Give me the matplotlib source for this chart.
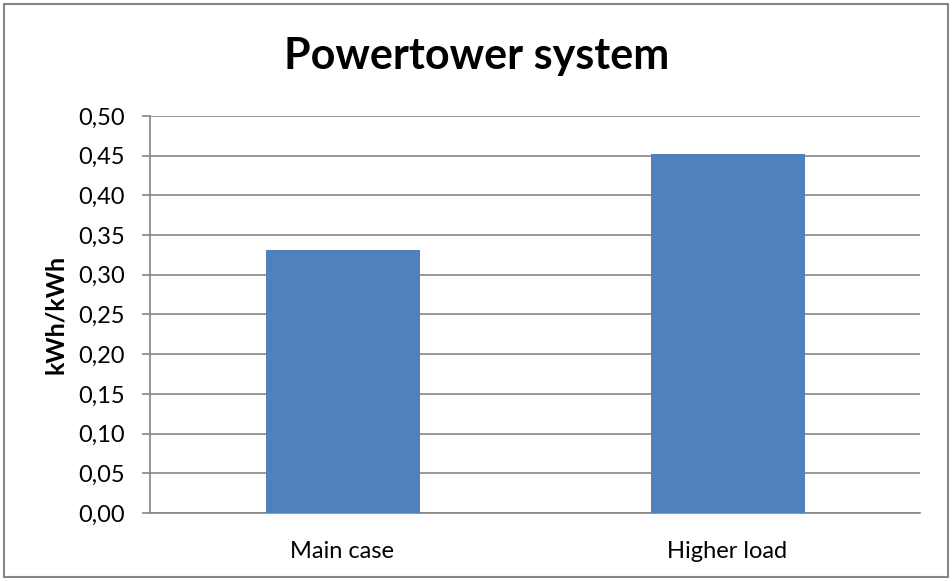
import matplotlib.pyplot as plt
from matplotlib.patches import Rectangle
from matplotlib.ticker import MultipleLocator, FuncFormatter

# energy ratio per case
cases = ["Main case", "Higher load"]
ratios = [0.331, 0.452]

plt.rcParams['font.family'] = ['Lato', 'DejaVu Sans']

fig = plt.figure(figsize=(9.52, 5.81), dpi=100)
ax = fig.add_axes([150 / 952, 68 / 581, 770 / 952, 397 / 581])

x = range(len(cases))
ax.bar(x, ratios, width=0.4, color="#4F81BD", zorder=3)

ax.set_xlim(-0.5, len(cases) - 0.5)
ax.set_ylim(0, 0.5)
ax.yaxis.set_major_locator(MultipleLocator(0.05))
ax.yaxis.set_major_formatter(FuncFormatter(lambda v, p: f"{v:.2f}".replace(".", ",")))
ax.set_xticks(list(x))
ax.set_xticklabels(cases)

ax.grid(axis="y", color="#868686", linewidth=1.2, zorder=0)
for side in ["top", "right"]:
    ax.spines[side].set_visible(False)
for side in ["left", "bottom"]:
    ax.spines[side].set_color("#868686")
    ax.spines[side].set_linewidth(1.2)

ax.tick_params(axis="y", direction="out", length=6, width=1.2, color="#868686",
               labelsize=17, pad=12)
ax.tick_params(axis="x", length=0, labelsize=17, pad=20)

ax.set_ylabel("kWh/kWh", fontsize=18, fontweight="bold", labelpad=8)
fig.text(477 / 952, 1 - 56 / 581, "Powertower system", ha="center", va="center",
         fontsize=31, fontweight="bold")

# chart border
fig.patches.append(Rectangle((4 / 952, 4 / 581), 944 / 952, 573 / 581,
                             transform=fig.transFigure, fill=False,
                             edgecolor="#868686", linewidth=1.5))

fig.savefig("out.png", dpi=100)
